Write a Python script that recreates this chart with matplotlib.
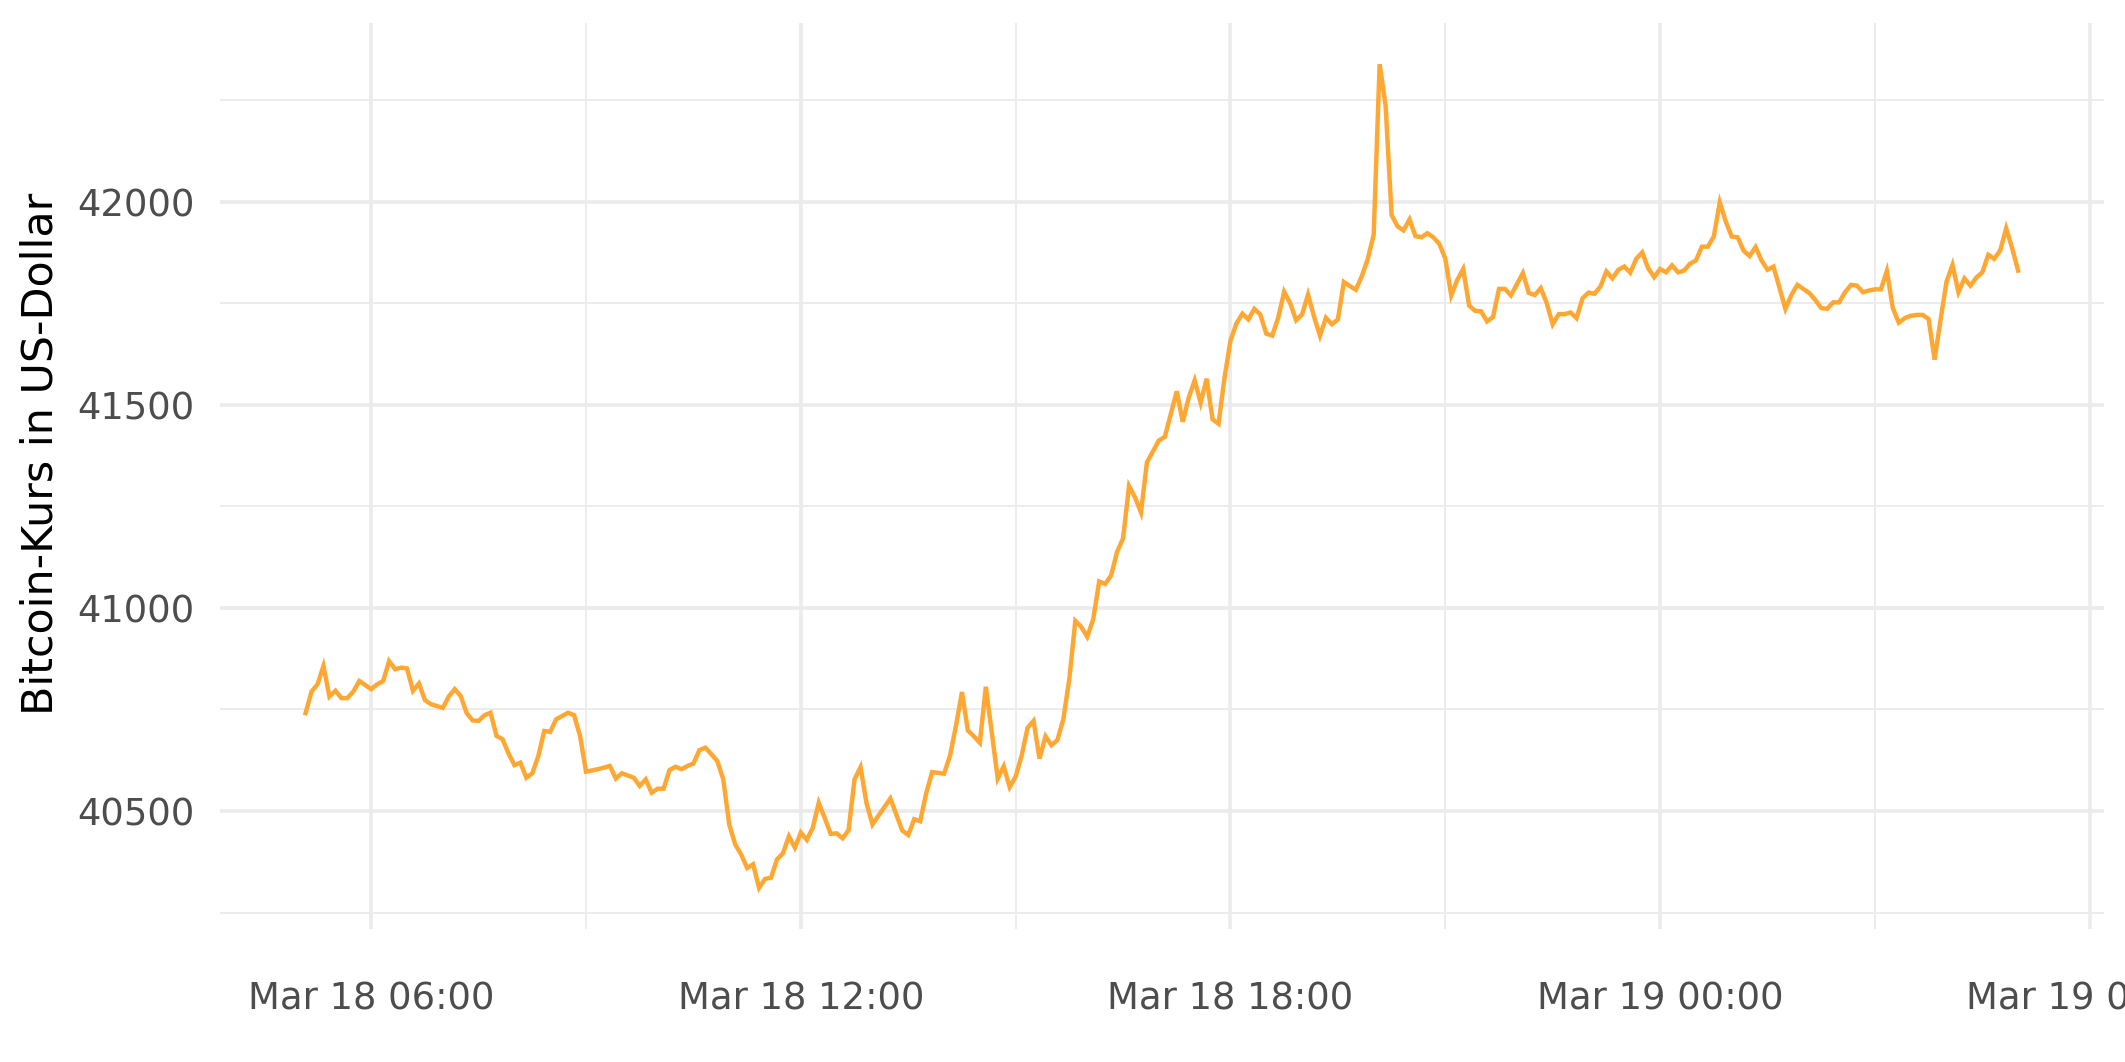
"""
Bitcoin price, 5-minute closes from Mar 18 05:05 to Mar 19 05:00 (2022),
drawn in the look of ggplot2's theme_minimal.
Writes out.png (2125x1062).
"""
import matplotlib
matplotlib.use('Agg')

import matplotlib.pyplot as plt
import matplotlib.dates as mdates
import matplotlib.ticker as mticker
import pandas as pd

YEAR = 2022

# values (vertices of the line)
times_mar18 = [
    '05:05', '05:10', '05:15', '05:20', '05:25', '05:30', '05:35', '05:40', '05:45', '05:50',
    '05:55', '06:00', '06:05', '06:10', '06:15', '06:20', '06:25', '06:30', '06:35', '06:40',
    '06:45', '06:50', '07:00', '07:05', '07:10', '07:15', '07:20', '07:25', '07:30', '07:35',
    '07:40', '07:45', '07:50', '07:55', '08:00', '08:05', '08:10', '08:15', '08:20', '08:25',
    '08:30', '08:35', '08:45', '08:50', '08:55', '09:00', '09:10', '09:20', '09:25', '09:30',
    '09:40', '09:45', '09:50', '09:55', '10:00', '10:05', '10:10', '10:15', '10:20', '10:25',
    '10:30', '10:35', '10:40', '10:45', '10:50', '10:55', '11:00', '11:05', '11:10', '11:15',
    '11:20', '11:25', '11:30', '11:35', '11:40', '11:45', '11:50', '11:55', '12:00', '12:05',
    '12:10', '12:15', '12:20', '12:25', '12:30', '12:35', '12:40', '12:45', '12:50', '12:55',
    '13:00', '13:15', '13:25', '13:30', '13:35', '13:40', '13:45', '13:50', '14:00', '14:05',
    '14:10', '14:15', '14:20', '14:25', '14:30', '14:35', '14:40', '14:45', '14:50', '14:55',
    '15:00', '15:05', '15:10', '15:15', '15:20', '15:25', '15:30', '15:35', '15:40', '15:45',
    '15:50', '15:55', '16:00', '16:05', '16:10', '16:15', '16:20', '16:25', '16:30', '16:35',
    '16:40', '16:45', '16:50', '17:00', '17:05', '17:15', '17:20', '17:25', '17:30', '17:35',
    '17:40', '17:45', '17:50', '17:55', '18:00', '18:05', '18:10', '18:15', '18:20', '18:25',
    '18:30', '18:35', '18:40', '18:45', '18:50', '18:55', '19:00', '19:05', '19:10', '19:15',
    '19:20', '19:25', '19:30', '19:35', '19:40', '19:45', '19:50', '19:55', '20:00', '20:05',
    '20:10', '20:15', '20:20', '20:25', '20:30', '20:35', '20:40', '20:45', '20:50', '20:55',
    '21:00', '21:05', '21:10', '21:15', '21:20', '21:25', '21:30', '21:35', '21:40', '21:45',
    '21:50', '21:55', '22:05', '22:10', '22:15', '22:20', '22:25', '22:30', '22:35', '22:40',
    '22:45', '22:50', '22:55', '23:00', '23:05', '23:10', '23:15', '23:20', '23:25', '23:30',
    '23:35', '23:40', '23:45', '23:50', '23:55',
]
price_mar18 = [
    40741, 40794, 40812, 40857, 40782, 40796, 40778, 40778, 40794, 40820,
    40810, 40800, 40812, 40820, 40869, 40849, 40853, 40851, 40796, 40814,
    40773, 40763, 40754, 40782, 40800, 40783, 40741, 40723, 40722, 40736,
    40742, 40685, 40677, 40642, 40613, 40619, 40582, 40593, 40635, 40697,
    40695, 40726, 40742, 40736, 40685, 40597, 40603, 40611, 40580, 40593,
    40582, 40562, 40578, 40545, 40555, 40555, 40601, 40609, 40603, 40611,
    40617, 40650, 40656, 40640, 40623, 40578, 40467, 40418, 40393, 40360,
    40369, 40311, 40333, 40336, 40381, 40396, 40438, 40410, 40447, 40429,
    40459, 40520, 40483, 40444, 40445, 40433, 40453, 40578, 40608, 40520,
    40467, 40531, 40452, 40441, 40480, 40475, 40543, 40596, 40592, 40636,
    40710, 40793, 40698, 40684, 40668, 40806, 40692, 40580, 40610, 40559,
    40585, 40636, 40705, 40722, 40629, 40684, 40662, 40675, 40727, 40826,
    40968, 40953, 40929, 40972, 41065, 41059, 41080, 41138, 41171, 41300,
    41272, 41235, 41358, 41412, 41421, 41533, 41458, 41517, 41560, 41505,
    41564, 41464, 41453, 41566, 41658, 41700, 41724, 41710, 41736, 41722,
    41675, 41670, 41714, 41778, 41750, 41708, 41722, 41771, 41717, 41670,
    41714, 41698, 41710, 41802, 41792, 41783, 41816, 41858, 41918, 42338,
    42236, 41967, 41939, 41929, 41956, 41915, 41912, 41922, 41912, 41896,
    41860, 41769, 41807, 41834, 41744, 41731, 41730, 41705, 41716, 41785,
    41785, 41769, 41824, 41775, 41770, 41787, 41750, 41698, 41723, 41723,
    41727, 41713, 41762, 41776, 41773, 41791, 41828, 41811, 41832, 41840,
    41825, 41859, 41875, 41836, 41814,
]
times_mar19 = [
    '00:00', '00:05', '00:10', '00:15', '00:20', '00:25', '00:30', '00:35', '00:40', '00:45',
    '00:50', '00:55', '01:00', '01:05', '01:10', '01:15', '01:20', '01:25', '01:30', '01:35',
    '01:45', '01:50', '01:55', '02:05', '02:10', '02:15', '02:20', '02:25', '02:30', '02:35',
    '02:40', '02:45', '02:50', '02:55', '03:00', '03:05', '03:10', '03:15', '03:20', '03:25',
    '03:30', '03:35', '03:40', '03:45', '03:50', '03:55', '04:00', '04:05', '04:10', '04:15',
    '04:20', '04:25', '04:30', '04:35', '04:40', '04:45', '04:50', '04:55', '05:00',
]
price_mar19 = [
    41834, 41826, 41843, 41826, 41830, 41847, 41855, 41889, 41889, 41914,
    41998, 41951, 41914, 41912, 41879, 41866, 41888, 41855, 41832, 41840,
    41736, 41770, 41795, 41775, 41758, 41738, 41736, 41752, 41752, 41777,
    41795, 41793, 41777, 41781, 41784, 41784, 41829, 41738, 41702, 41713,
    41719, 41721, 41721, 41711, 41611, 41709, 41803, 41844, 41777, 41811,
    41793, 41813, 41826, 41869, 41859, 41880, 41934, 41885, 41830,
]

Y_LABEL = 'Bitcoin-Kurs in US-Dollar'
LINE_COLOR = '#FFA733'
GRID = '#EBEBEB'
TICK_TXT = '#4D4D4D'


def build_frame():
    ts = ([f'{YEAR}-03-18 {t}' for t in times_mar18] +
          [f'{YEAR}-03-19 {t}' for t in times_mar19])
    return pd.DataFrame({'ds': pd.to_datetime(ts), 'y': price_mar18 + price_mar19})


def main():
    df = build_frame()

    fig = plt.figure(figsize=(10.625, 5.31), dpi=200)
    ax = fig.add_axes([0.1035, 0.1252, 0.8865, 0.8531])

    ax.plot(df['ds'], df['y'], color=LINE_COLOR, lw=1.6, solid_joinstyle='miter')
    ax.margins(x=0.05, y=0.05)

    # ggplot-like grid: major + thinner minor lines, no ticks, no spines
    ax.xaxis.set_major_locator(mdates.HourLocator(byhour=[0, 6, 12, 18]))
    ax.xaxis.set_minor_locator(mdates.HourLocator(byhour=[3, 9, 15, 21]))
    ax.xaxis.set_major_formatter(mdates.DateFormatter('%b %d %H:%M'))
    ax.yaxis.set_major_locator(mticker.MultipleLocator(500))
    ax.yaxis.set_minor_locator(mticker.MultipleLocator(250))
    ax.yaxis.set_major_formatter(mticker.FormatStrFormatter('%d'))

    ax.set_axisbelow(True)
    ax.grid(which='major', color=GRID, lw=1.3)
    ax.grid(which='minor', color=GRID, lw=0.65)
    for s in ax.spines.values():
        s.set_visible(False)
    ax.tick_params(which='both', length=0)
    ax.tick_params(axis='x', labelsize=13.3, labelcolor=TICK_TXT, pad=18.5)
    ax.tick_params(axis='y', labelsize=13.3, labelcolor=TICK_TXT, pad=9)

    ax.set_ylabel(Y_LABEL, fontsize=15.4, color='black', va='center')
    ax.yaxis.set_label_coords(-0.0955, 0.524)

    fig.savefig('out.png', dpi=200, facecolor='white')
    plt.close(fig)


if __name__ == '__main__':
    main()
